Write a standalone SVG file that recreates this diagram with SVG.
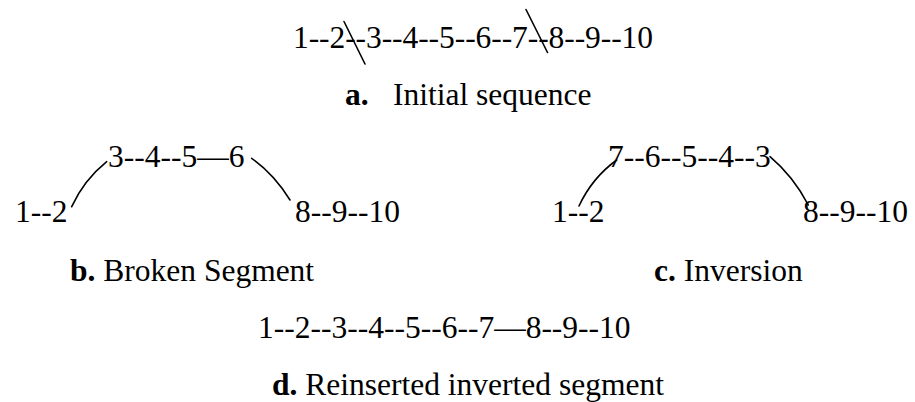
<svg xmlns="http://www.w3.org/2000/svg" width="915" height="402" viewBox="0 0 915 402">
<style>
text{font-family:"Liberation Serif","Times New Roman",serif;font-size:31.5px;fill:#000}
.b{font-weight:bold}
.ln{fill:none;stroke:#000;stroke-width:1.6;stroke-linecap:round}
</style>
<rect width="915" height="402" fill="#fff"/>
<g id="seqA"><text x="293" y="48" textLength="360" lengthAdjust="spacing">1--2--3--4--5--6--7--8--9--10</text></g>
<g id="labelA"><text y="105"><tspan class="b" x="345">a.</tspan><tspan x="393">Initial sequence</tspan></text></g>
<g id="b12"><text x="15" y="222">1--2</text></g>
<g id="b3456"><text x="108" y="167">3--4--5—6</text></g>
<g id="b8910"><text x="295" y="222">8--9--10</text></g>
<g id="labelB"><text x="70" y="281"><tspan class="b">b.</tspan> Broken Segment</text></g>
<g id="c12"><text x="552" y="222">1--2</text></g>
<g id="c76543"><text x="608" y="167">7--6--5--4--3</text></g>
<g id="c8910"><text x="803" y="222">8--9--10</text></g>
<g id="labelC"><text x="654" y="281"><tspan class="b">c.</tspan> Inversion</text></g>
<g id="seqD"><text x="258" y="338">1--2--3--4--5--6--7—8--9--10</text></g>
<g id="labelD"><text x="272" y="394.5"><tspan class="b">d.</tspan> Reinserted inverted segment</text></g>
<g id="connectors">
<line class="ln" x1="344" y1="21.5" x2="365" y2="64"/>
<line class="ln" x1="526" y1="9.5" x2="547.5" y2="52.5"/>
<path class="ln" d="M71.7,206.7 Q84,180 106.7,161.7"/>
<path class="ln" d="M251.7,158.3 Q274,174 290,200"/>
<path class="ln" d="M579,206 Q592,178 616.7,160"/>
<path class="ln" d="M770,156.7 Q793,176 808.3,205"/>
</g>
</svg>
